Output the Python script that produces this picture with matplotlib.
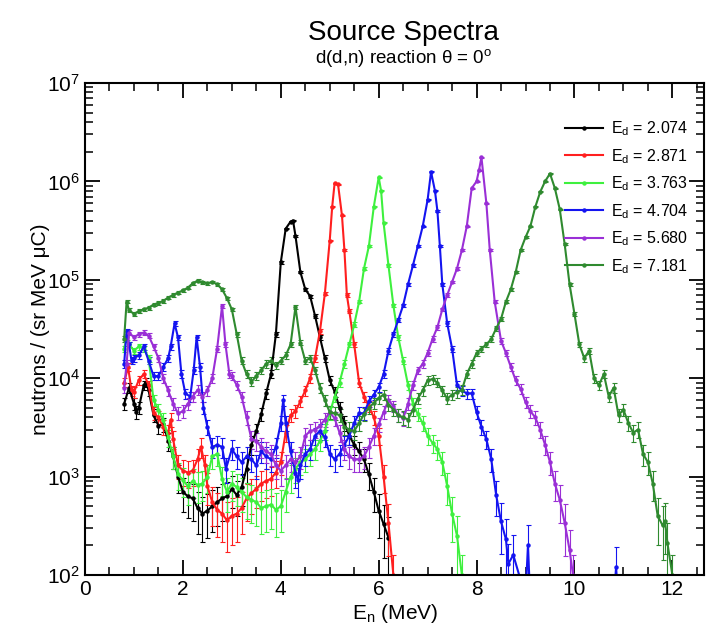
import numpy as np
import matplotlib.pyplot as plt
from matplotlib.lines import Line2D
from matplotlib.ticker import LogLocator, MultipleLocator, NullFormatter

plt.rcParams['font.family'] = ['Liberation Sans', 'DejaVu Sans']

# E_d = 2.074
e_2074 = [0.80, 0.90, 1.00, 1.05, 1.10, 1.20, 1.25, 1.30, 1.40, 1.50, 1.60, 1.70, 1.80,
          1.90, 2.00, 2.10, 2.20, 2.30, 2.40, 2.50, 2.60, 2.70, 2.80, 2.90, 3.00, 3.10,
          3.20, 3.30, 3.40, 3.50, 3.60, 3.70, 3.80, 3.90, 4.00, 4.10, 4.20, 4.25, 4.30,
          4.40, 4.50, 4.60, 4.70, 4.80, 4.90, 5.00, 5.10, 5.20, 5.30, 5.40, 5.50, 5.60,
          5.70, 5.80, 5.90, 6.00, 6.10, 6.20]
n_2074 = [5.5e3, 8.0e3, 5.5e3, 4.5e3, 5.0e3, 8.5e3, 9.0e3, 7.5e3, 4.2e3, 3.3e3, 3.4e3,
          2.3e3, 1.6e3, 1.0e3, 7.0e2, 6.3e2, 6.0e2, 4.8e2, 4.2e2, 4.5e2, 5.0e2, 5.5e2,
          6.0e2, 6.3e2, 7.5e2, 6.5e2, 7.8e2, 1.2e3, 2.1e3, 2.9e3, 4.3e3, 7.0e3, 1.1e4,
          2.8e4, 1.5e5, 3.3e5, 3.9e5, 4.0e5, 2.8e5, 1.2e5, 8.0e4, 6.8e4, 4.3e4, 2.6e4,
          1.6e4, 9.6e3, 7.3e3, 5.0e3, 3.5e3, 2.6e3, 2.1e3, 1.8e3, 1.5e3, 1.05e3, 7.0e2,
          4.5e2, 3.3e2, 2.4e2]

# E_d = 2.871
e_2871 = [0.80, 0.88, 0.95, 1.00, 1.10, 1.20, 1.30, 1.40, 1.50, 1.60, 1.70, 1.75, 1.80,
          1.90, 2.00, 2.10, 2.20, 2.30, 2.37, 2.45, 2.50, 2.60, 2.70, 2.80, 2.90, 3.00,
          3.10, 3.20, 3.30, 3.40, 3.50, 3.60, 3.70, 3.80, 3.90, 4.00, 4.10, 4.20, 4.30,
          4.40, 4.50, 4.60, 4.70, 4.80, 4.90, 5.00, 5.05, 5.10, 5.17, 5.25, 5.30, 5.35,
          5.40, 5.50, 5.60, 5.70, 5.80, 5.90, 6.00, 6.10, 6.20, 6.30]
n_2871 = [9.0e3, 1.3e4, 7.5e3, 7.2e3, 9.6e3, 1.1e4, 8.5e3, 4.4e3, 4.0e3, 3.2e3, 2.8e3,
          3.8e3, 2.4e3, 1.3e3, 1.15e3, 1.1e3, 1.15e3, 1.5e3, 2.0e3, 1.3e3, 8.0e2, 5.5e2,
          4.6e2, 4.2e2, 3.6e2, 4.0e2, 4.2e2, 4.8e2, 6.0e2, 6.8e2, 7.5e2, 8.5e2, 9.0e2,
          9.5e2, 1.1e3, 1.4e3, 2.8e3, 4.2e3, 4.6e3, 5.8e3, 7.5e3, 1.0e4, 1.6e4, 3.0e4,
          7.2e4, 2.5e5, 5.5e5, 9.6e5, 9.3e5, 4.5e5, 2.0e5, 7.0e4, 4.8e4, 2.2e4, 9.0e3,
          6.5e3, 5.2e3, 4.0e3, 2.6e3, 1.0e3, 3.4e2, 1.0e2]

# E_d = 3.763
e_3763 = [0.80, 0.85, 0.90, 1.00, 1.10, 1.20, 1.30, 1.40, 1.50, 1.60, 1.70, 1.80, 1.90,
          2.00, 2.10, 2.20, 2.30, 2.40, 2.50, 2.60, 2.70, 2.80, 2.90, 3.00, 3.10, 3.20,
          3.30, 3.40, 3.50, 3.60, 3.70, 3.80, 3.90, 4.00, 4.10, 4.20, 4.30, 4.40, 4.50,
          4.60, 4.70, 4.80, 4.90, 5.00, 5.10, 5.20, 5.30, 5.40, 5.50, 5.60, 5.70, 5.80,
          5.90, 6.00, 6.05, 6.10, 6.20, 6.30, 6.40, 6.50, 6.60, 6.70, 6.80, 6.90, 7.00,
          7.10, 7.20, 7.30, 7.40, 7.50, 7.60, 7.70]
n_3763 = [2.0e4, 2.6e4, 2.2e4, 1.9e4, 2.1e4, 2.0e4, 1.6e4, 6.0e3, 4.8e3, 3.8e3, 2.5e3,
          1.6e3, 1.05e3, 9.2e2, 8.0e2, 9.0e2, 8.2e2, 8.5e2, 1.0e3, 1.6e3, 1.7e3, 9.5e2,
          7.0e2, 8.5e2, 7.8e2, 7.0e2, 6.2e2, 5.8e2, 5.5e2, 4.8e2, 5.0e2, 5.2e2, 4.6e2,
          5.0e2, 7.0e2, 1.0e3, 1.2e3, 1.4e3, 1.5e3, 1.7e3, 1.9e3, 2.3e3, 2.9e3, 4.4e3,
          6.5e3, 9.0e3, 1.4e4, 2.2e4, 3.5e4, 6.0e4, 1.3e5, 2.2e5, 5.5e5, 1.1e6, 8.0e5,
          3.8e5, 1.4e5, 5.5e4, 2.6e4, 1.5e4, 8.5e3, 5.5e3, 4.3e3, 3.5e3, 2.6e3, 2.2e3,
          1.9e3, 1.4e3, 8.0e2, 4.2e2, 2.5e2, 1.0e2]

# E_d = 4.704
e_4704 = [0.80, 0.85, 0.90, 0.95, 1.00, 1.10, 1.20, 1.30, 1.40, 1.50, 1.60, 1.70, 1.75,
          1.83, 1.90, 1.97, 2.05, 2.15, 2.22, 2.28, 2.35, 2.42, 2.50, 2.60, 2.70, 2.80,
          2.88, 3.00, 3.10, 3.20, 3.30, 3.40, 3.50, 3.60, 3.70, 3.80, 3.90, 4.00, 4.05,
          4.10, 4.20, 4.30, 4.35, 4.40, 4.50, 4.60, 4.70, 4.80, 4.90, 5.00, 5.10, 5.20,
          5.30, 5.40, 5.50, 5.60, 5.70, 5.80, 5.90, 6.00, 6.10, 6.20, 6.30, 6.40, 6.50,
          6.60, 6.70, 6.80, 6.90, 7.00, 7.07, 7.15, 7.20, 7.25, 7.30, 7.40, 7.50, 7.60,
          7.70, 7.80, 7.90, 8.00, 8.10, 8.20, 8.30, 8.40, 8.50, 8.60, 8.65, 8.75, 9.00,
          9.05, 9.10, 10.80, 10.85, 10.90]
n_4704 = [1.4e4, 3.0e4, 2.2e4, 1.5e4, 1.6e4, 1.7e4, 2.1e4, 1.5e4, 1.05e4, 1.05e4, 1.3e4,
          1.6e4, 2.1e4, 3.6e4, 2.6e4, 1.1e4, 7.0e3, 6.5e3, 1.2e4, 2.6e4, 1.3e4, 5.0e3,
          3.2e3, 2.0e3, 2.1e3, 2.0e3, 1.2e3, 1.9e3, 1.6e3, 1.4e3, 1.6e3, 1.5e3, 1.3e3,
          1.8e3, 1.6e3, 1.5e3, 2.0e3, 3.5e3, 6.0e3, 3.5e3, 1.8e3, 1.1e3, 9.2e2, 1.3e3,
          1.7e3, 1.9e3, 2.6e3, 2.9e3, 2.5e3, 1.7e3, 1.5e3, 1.7e3, 2.1e3, 2.6e3, 3.5e3,
          4.4e3, 4.4e3, 5.8e3, 6.8e3, 8.1e3, 1.1e4, 1.9e4, 2.8e4, 3.9e4, 5.5e4, 9.0e4,
          1.4e5, 2.2e5, 3.5e5, 6.5e5, 1.25e6, 8.0e5, 5.0e5, 2.2e5, 9.0e4, 3.6e4, 2.0e4,
          8.5e3, 7.5e3, 7.0e3, 7.0e3, 4.5e3, 3.2e3, 2.4e3, 1.5e3, 6.5e2, 3.5e2, 2.3e2,
          1.3e2, 1.6e2, 6.0e1, 2.0e2, 5.0e1, 5.0e1, 1.2e2, 5.0e1]

# E_d = 5.680
e_5680 = [0.80, 0.85, 0.90, 1.00, 1.10, 1.20, 1.30, 1.40, 1.50, 1.60, 1.70, 1.80, 1.90,
          2.00, 2.10, 2.20, 2.30, 2.40, 2.50, 2.60, 2.70, 2.80, 2.87, 2.95, 3.00, 3.10,
          3.20, 3.30, 3.40, 3.50, 3.60, 3.70, 3.80, 3.90, 4.00, 4.10, 4.20, 4.30, 4.40,
          4.50, 4.60, 4.70, 4.80, 4.90, 5.00, 5.10, 5.20, 5.30, 5.40, 5.50, 5.60, 5.70,
          5.80, 5.90, 6.00, 6.10, 6.20, 6.30, 6.40, 6.50, 6.60, 6.70, 6.80, 6.90, 7.00,
          7.10, 7.20, 7.30, 7.40, 7.50, 7.60, 7.70, 7.80, 7.90, 8.00, 8.05, 8.10, 8.20,
          8.27, 8.37, 8.50, 8.60, 8.70, 8.80, 8.90, 9.00, 9.10, 9.20, 9.30, 9.40, 9.50,
          9.60, 9.70, 9.80, 9.90, 9.97]
n_5680 = [8.0e3, 1.4e4, 2.9e4, 2.6e4, 2.8e4, 2.9e4, 2.7e4, 2.1e4, 1.6e4, 1.0e4, 7.5e3,
          5.5e3, 4.4e3, 4.6e3, 5.5e3, 6.5e3, 7.6e3, 6.5e3, 7.5e3, 1.0e4, 2.0e4, 5.4e4,
          2.2e4, 1.1e4, 1.05e4, 8.5e3, 6.5e3, 4.0e3, 2.4e3, 2.3e3, 2.0e3, 1.8e3, 1.7e3,
          1.3e3, 1.15e3, 1.3e3, 1.5e3, 1.4e3, 1.6e3, 2.6e3, 2.9e3, 3.0e3, 3.3e3, 3.8e3,
          4.5e3, 3.9e3, 2.8e3, 1.9e3, 1.6e3, 1.5e3, 1.5e3, 1.6e3, 2.0e3, 2.6e3, 3.4e3,
          4.5e3, 6.0e3, 5.2e3, 4.2e3, 3.9e3, 5.5e3, 8.5e3, 1.2e4, 1.4e4, 1.8e4, 2.5e4,
          3.3e4, 5.0e4, 7.0e4, 9.5e4, 1.3e5, 2.0e5, 3.5e5, 8.5e5, 1.0e6, 1.3e6, 1.75e6,
          6.0e5, 2.0e5, 6.0e4, 2.4e4, 1.8e4, 1.3e4, 9.5e3, 7.8e3, 5.7e3, 4.6e3, 4.0e3,
          3.0e3, 2.1e3, 1.4e3, 8.5e2, 5.8e2, 3.4e2, 1.8e2, 1.0e2]

# E_d = 7.181
e_7181 = [0.80, 0.85, 0.90, 1.00, 1.10, 1.20, 1.30, 1.40, 1.50, 1.60, 1.70, 1.80, 1.90,
          2.00, 2.10, 2.20, 2.30, 2.40, 2.50, 2.60, 2.70, 2.80, 2.90, 3.00, 3.10, 3.20,
          3.30, 3.40, 3.50, 3.60, 3.70, 3.80, 3.90, 4.00, 4.10, 4.20, 4.30, 4.40, 4.50,
          4.60, 4.70, 4.80, 4.90, 5.00, 5.10, 5.20, 5.30, 5.40, 5.50, 5.60, 5.70, 5.80,
          5.90, 6.00, 6.10, 6.20, 6.30, 6.40, 6.50, 6.60, 6.70, 6.80, 6.90, 7.00, 7.10,
          7.20, 7.30, 7.40, 7.50, 7.60, 7.70, 7.80, 7.90, 8.00, 8.10, 8.20, 8.30, 8.40,
          8.50, 8.60, 8.70, 8.80, 8.90, 9.00, 9.10, 9.20, 9.30, 9.40, 9.50, 9.60, 9.70,
          9.80, 9.90, 10.00, 10.10, 10.20, 10.30, 10.40, 10.50, 10.60, 10.70, 10.80,
          10.90, 11.00, 11.10, 11.20, 11.30, 11.40, 11.50, 11.60, 11.70, 11.80, 11.85,
          11.90, 12.00]
n_7181 = [2.5e4, 6.0e4, 4.9e4, 4.5e4, 4.8e4, 5.0e4, 5.2e4, 5.6e4, 5.8e4, 6.1e4, 6.6e4,
          7.0e4, 7.4e4, 7.8e4, 8.3e4, 9.2e4, 9.8e4, 9.4e4, 9.2e4, 9.5e4, 9.0e4, 8.0e4,
          6.5e4, 5.0e4, 2.8e4, 1.5e4, 1.1e4, 9.2e3, 1.05e4, 1.2e4, 1.4e4, 1.5e4, 1.35e4,
          1.5e4, 1.7e4, 2.2e4, 5.3e4, 2.3e4, 1.5e4, 1.6e4, 1.2e4, 8.0e3, 6.0e3, 4.5e3,
          4.4e3, 4.2e3, 3.2e3, 3.0e3, 2.9e3, 3.5e3, 4.3e3, 5.0e3, 5.6e3, 6.3e3, 6.8e3,
          5.4e3, 4.8e3, 4.2e3, 4.0e3, 3.8e3, 4.8e3, 6.2e3, 7.5e3, 9.5e3, 9.8e3, 9.0e3,
          7.5e3, 6.2e3, 6.8e3, 7.2e3, 7.6e3, 1.1e4, 1.4e4, 1.8e4, 2.0e4, 2.2e4, 2.5e4,
          3.2e4, 4.0e4, 6.0e4, 8.0e4, 1.2e5, 2.0e5, 2.7e5, 3.5e5, 5.5e5, 7.8e5, 1.0e6,
          1.2e6, 8.5e5, 5.2e5, 2.3e5, 9.0e4, 4.5e4, 2.2e4, 1.6e4, 1.9e4, 1.0e4, 8.5e3,
          1.1e4, 6.5e3, 8.0e3, 4.2e3, 4.8e3, 3.5e3, 2.8e3, 3.0e3, 1.7e3, 1.4e3, 8.5e2,
          4.0e2, 3.2e2, 3.5e2, 2.1e2, 1.0e2]

labels = ['2.074', '2.871', '3.763', '4.704', '5.680', '7.181']
colors = ['#000000', '#ff1f1f', '#3ef03e', '#1414f0', '#9a2fd6', '#2f8a2f']
series = [(e_2074, n_2074), (e_2871, n_2871), (e_3763, n_3763),
          (e_4704, n_4704), (e_5680, n_5680), (e_7181, n_7181)]

fig = plt.figure(figsize=(7.06, 6.26), dpi=100)
ax = fig.add_axes([0.1204, 0.0815, 0.877, 0.786])

for (e, n), c in zip(series, colors):
    e = np.array(e)
    n = np.array(n)
    # counting-statistics style error bars, bigger at low counts
    rel = np.minimum(0.6, 0.1 * np.sqrt(1e4 / n))
    ax.errorbar(e, n, yerr=n * rel, fmt='-o', color=c, ms=2.2, lw=1.5,
                elinewidth=0.8, capsize=1.8, capthick=0.8)

ax.set_yscale('log')
ax.set_xlim(0, 12.65)
ax.set_ylim(1e2, 1e7)
ax.xaxis.set_major_locator(MultipleLocator(2))
ax.xaxis.set_minor_locator(MultipleLocator(0.5))
ax.yaxis.set_major_locator(LogLocator(base=10, numticks=10))
ax.yaxis.set_minor_locator(LogLocator(base=10, subs=np.arange(2, 10), numticks=20))
ax.yaxis.set_minor_formatter(NullFormatter())
ax.tick_params(which='both', direction='in', top=True, right=True, labelsize=15)
ax.tick_params(which='major', length=11, width=1.3)
ax.tick_params(which='minor', length=6, width=1.1)
for s in ax.spines.values():
    s.set_linewidth(1.5)

ax.set_xlabel('E$_\\mathregular{n}$ (MeV)', fontsize=15, labelpad=2)
ax.set_ylabel('neutrons / (sr MeV \u03bcC)', fontsize=15, labelpad=-2)

fig.text(0.571, 0.948, 'Source Spectra', ha='center', va='center', fontsize=20)
fig.text(0.571, 0.907, 'd(d,n) reaction \u03b8 = 0$^\\mathregular{o}$', ha='center',
         va='center', fontsize=13.5)

handles = [Line2D([], [], color=c, marker='o', ms=2.2, lw=1.5) for c in colors]
ax.legend(handles, ['E$_\\mathregular{d}$ = ' + l for l in labels], loc='upper right',
          bbox_to_anchor=(0.998, 0.955), frameon=False, fontsize=11.5,
          handlelength=2.4, labelspacing=0.55, handletextpad=0.5)

fig.savefig('out.png', dpi=100)
